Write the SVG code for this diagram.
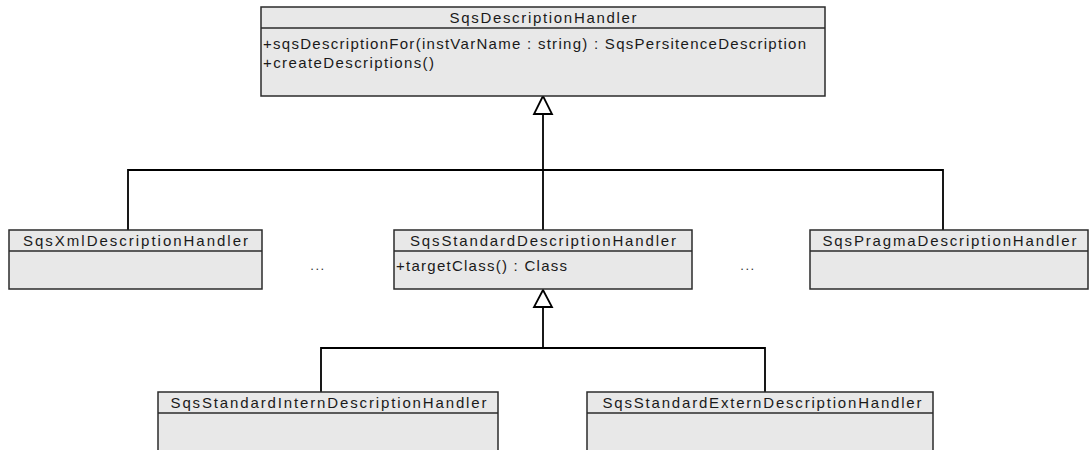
<svg xmlns="http://www.w3.org/2000/svg" width="1091" height="450" viewBox="0 0 1091 450">
  <style>
    .box { fill: #e8e8e8; stroke: #2b2b2b; stroke-width: 1.5; }
    .sep { stroke: #2b2b2b; stroke-width: 1.5; fill: none; }
    .name { font-family: "Liberation Sans", Arial, sans-serif; font-size: 15px; fill: #1a1a1a; text-anchor: middle; }
    .op { font-family: "Liberation Sans", Arial, sans-serif; font-size: 15px; fill: #1a1a1a; }
    .dots { font-family: "Liberation Sans", Arial, sans-serif; font-size: 13px; fill: #333; text-anchor: middle; letter-spacing: 1.5px; }
    .edge { stroke: #000; stroke-width: 1.8; fill: none; }
    .head { fill: #fff; stroke: #000; stroke-width: 1.8; stroke-linejoin: miter; }
  </style>

  <!-- generalization connectors -->
  <g id="connectors">
    <polyline class="edge" points="543,114 543,170"/>
    <polyline class="edge" points="128,230 128,170 943,170 943,230"/>
    <polyline class="edge" points="543,170 543,230"/>
    <polygon class="head" points="543,96 534,114 552,114"/>

    <polyline class="edge" points="543,307 543,348"/>
    <polyline class="edge" points="321,392 321,348 765,348 765,392"/>
    <polygon class="head" points="543,290 534,307 552,307"/>
  </g>

  <g id="SqsDescriptionHandler">
    <rect class="box" x="261" y="7" width="564" height="89"/>
    <line class="sep" x1="261" y1="28" x2="825" y2="28"/>
    <text class="name" x="543" y="23" textLength="187" lengthAdjust="spacing">SqsDescriptionHandler</text>
    <text class="op" x="263" y="49" textLength="543" lengthAdjust="spacing">+sqsDescriptionFor(instVarName : string) : SqsPersitenceDescription</text>
    <text class="op" x="263" y="68" textLength="171" lengthAdjust="spacing">+createDescriptions()</text>
  </g>

  <g id="SqsXmlDescriptionHandler">
    <rect class="box" x="9" y="230" width="253" height="59"/>
    <line class="sep" x1="9" y1="251" x2="262" y2="251"/>
    <text class="name" x="135.5" y="246" textLength="225" lengthAdjust="spacing">SqsXmlDescriptionHandler</text>
  </g>

  <g id="SqsStandardDescriptionHandler">
    <rect class="box" x="394" y="230" width="298" height="59"/>
    <line class="sep" x1="394" y1="251" x2="692" y2="251"/>
    <text class="name" x="543" y="246" textLength="266" lengthAdjust="spacing">SqsStandardDescriptionHandler</text>
    <text class="op" x="396" y="271" textLength="171" lengthAdjust="spacing">+targetClass() : Class</text>
  </g>

  <g id="SqsPragmaDescriptionHandler">
    <rect class="box" x="810" y="230" width="278" height="59"/>
    <line class="sep" x1="810" y1="251" x2="1088" y2="251"/>
    <text class="name" x="949.5" y="246" textLength="254" lengthAdjust="spacing">SqsPragmaDescriptionHandler</text>
  </g>

  <g id="ellipsis-left">
    <text class="dots" x="318" y="270">...</text>
  </g>
  <g id="ellipsis-right">
    <text class="dots" x="748" y="270">...</text>
  </g>

  <g id="SqsStandardInternDescriptionHandler">
    <rect class="box" x="158" y="392" width="340" height="70"/>
    <line class="sep" x1="158" y1="413" x2="498" y2="413"/>
    <text class="name" x="328.5" y="408" textLength="316" lengthAdjust="spacing">SqsStandardInternDescriptionHandler</text>
  </g>

  <g id="SqsStandardExternDescriptionHandler">
    <rect class="box" x="587" y="392" width="346" height="70"/>
    <line class="sep" x1="587" y1="413" x2="933" y2="413"/>
    <text class="name" x="762" y="408" textLength="319" lengthAdjust="spacing">SqsStandardExternDescriptionHandler</text>
  </g>
</svg>
